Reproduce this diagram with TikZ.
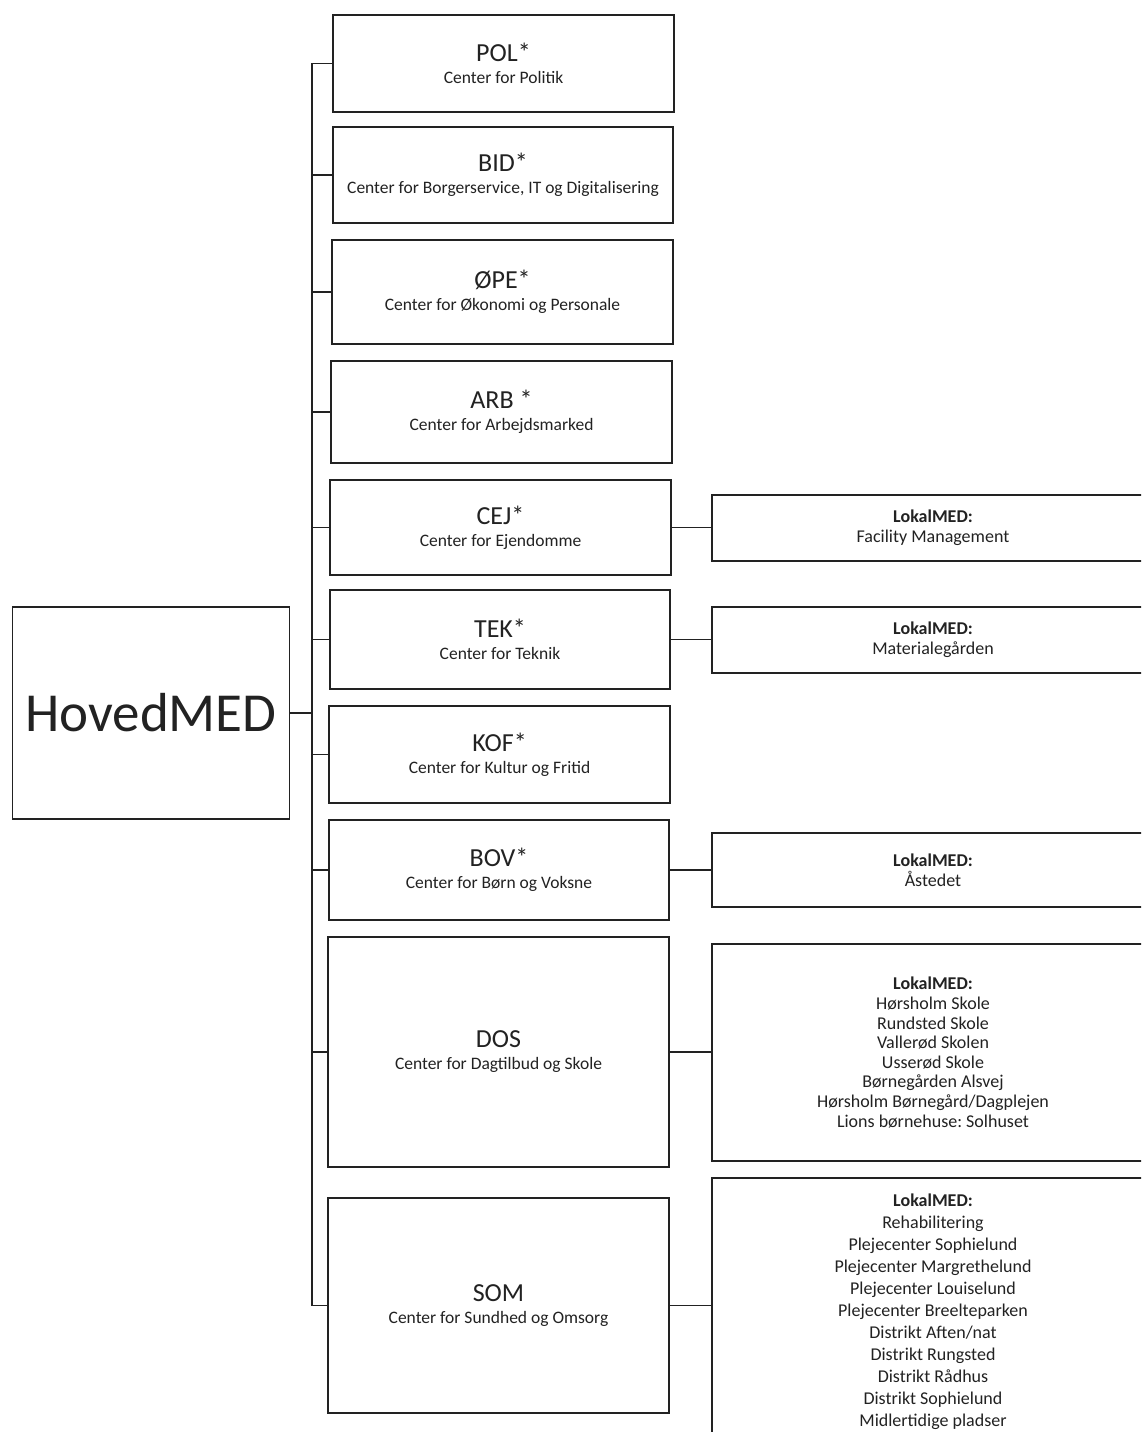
\documentclass[tikz,border=0pt]{standalone}
\usepackage{fontspec}
\setmainfont{Carlito}
\definecolor{ink}{HTML}{222222}
\begin{document}
\frenchspacing
\begin{tikzpicture}[x=1pt,y=-1pt,
  box/.style={draw=ink,line width=1.7pt,rectangle,inner sep=0pt,text=ink,align=center},
  mid/.style={box,font=\fontsize{17.5}{22}\selectfont},
  conn/.style={draw=ink,line width=1.8pt},
]
\newcommand{\ttlf}{\fontsize{26}{28}\selectfont}
\useasboundingbox (0,0) rectangle (1141,1432);
\clip (0,0) rectangle (1141,1432);
\fill[white] (0,0) rectangle (1141,1432);

\node[box,minimum width=277pt,minimum height=212pt,font=\fontsize{55}{60}\selectfont] (hm) at (151,713) {HovedMED};

\node[mid,minimum width=341pt,minimum height=97pt] (pol) at (503.5,63.5) {{\ttlf POL*}\\Center for Politik};
\node[mid,minimum width=340pt,minimum height=96pt] (bid) at (503,175) {{\ttlf BID*}\\Center for Borgerservice, IT og Digitalisering};
\node[mid,minimum width=341pt,minimum height=104pt] (ope) at (502.5,292) {{\ttlf ØPE*}\\Center for Økonomi og Personale};
\node[mid,minimum width=341pt,minimum height=102pt] (arb) at (501.5,412) {{\ttlf ARB *}\\Center for Arbejdsmarked};
\node[mid,minimum width=341pt,minimum height=95pt] (cej) at (500.5,527.5) {{\ttlf CEJ*}\\Center for Ejendomme};
\node[mid,minimum width=340pt,minimum height=99pt] (tek) at (500,639.5) {{\ttlf TEK*}\\Center for Teknik};
\node[mid,minimum width=341pt,minimum height=97pt] (kof) at (499.5,754.5) {{\ttlf KOF*}\\Center for Kultur og Fritid};
\node[mid,minimum width=340pt,minimum height=100pt] (bov) at (499,870) {{\ttlf BOV*}\\Center for Børn og Voksne};
\node[mid,minimum width=341pt,minimum height=230pt] (dos) at (498.5,1052) {{\ttlf DOS}\\Center for Dagtilbud og Skole};
\node[mid,minimum width=341pt,minimum height=215pt] (som) at (498.5,1305.5) {{\ttlf SOM}\\Center for Sundhed og Omsorg};

\node[box,minimum width=442pt,minimum height=66pt,font=\fontsize{18}{20}\selectfont] (lcej) at (933,528) {\textbf{LokalMED:}\\Facility Management};
\node[box,minimum width=442pt,minimum height=66pt,font=\fontsize{18}{20}\selectfont] (ltek) at (933,640) {\textbf{LokalMED:}\\Materialegården};
\node[box,minimum width=442pt,minimum height=74pt,font=\fontsize{18}{20}\selectfont] (lbov) at (933,870) {\textbf{LokalMED:}\\Åstedet};
\node[box,minimum width=442pt,minimum height=217pt,font=\fontsize{18}{19.6}\selectfont] (ldos) at (933,1052.5) {\textbf{LokalMED:}\\Hørsholm Skole\\Rundsted Skole\\Vallerød Skolen\\Usserød Skole\\Børnegården Alsvej\\Hørsholm Børnegård/Dagplejen\\Lions børnehuse: Solhuset};
\node[box,minimum width=442pt,minimum height=267pt,font=\fontsize{18}{22}\selectfont] (lsom) at (933,1311.5) {\textbf{LokalMED:}\\Rehabilitering\\Plejecenter Sophielund\\Plejecenter Margrethelund\\Plejecenter Louiselund\\Plejecenter Breelteparken\\Distrikt Aften/nat\\Distrikt Rungsted\\Distrikt Rådhus\\Distrikt Sophielund\\Midlertidige pladser};

\coordinate (bus) at (312,0);
\draw[conn] (pol.west) -- (pol.west -| bus) -- (som.west -| bus) -- (som.west);
\foreach \b in {bid,ope,arb,cej,tek,kof,bov,dos}
  \draw[conn] (\b.west) -- (\b.west -| bus);
\draw[conn] (hm.east) -- (hm.east -| bus);

\draw[conn] (cej.east) -- (cej.east -| lcej.west);
\draw[conn] (tek.east) -- (tek.east -| ltek.west);
\draw[conn] (bov.east) -- (bov.east -| lbov.west);
\draw[conn] (dos.east) -- (dos.east -| ldos.west);
\draw[conn] (som.east) -- (som.east -| lsom.west);
\end{tikzpicture}
\end{document}
